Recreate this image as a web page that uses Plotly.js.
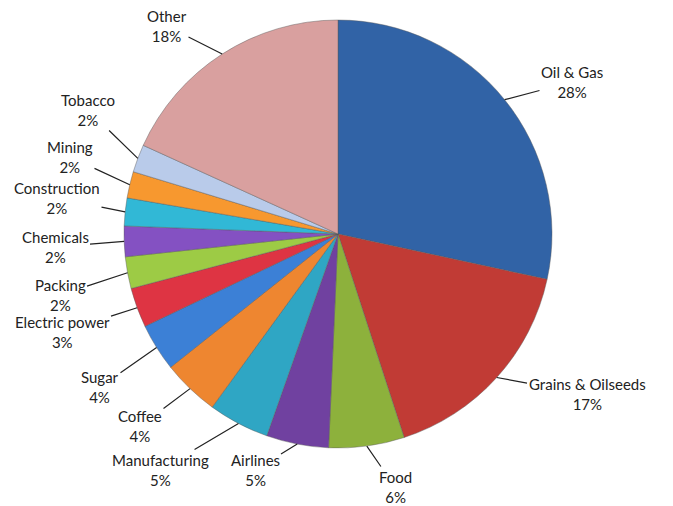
<!DOCTYPE html>
<html><head><meta charset="utf-8">
<script src="https://cdn.plot.ly/plotly-3.0.1.min.js"></script>
<style>html,body{margin:0;padding:0;background:#fff}#chart{width:673px;height:506px}</style>
</head><body><div id="chart"></div>
<script>
// ---- data ----
const sectors = ["Oil & Gas","Grains & Oilseeds","Food","Airlines","Manufacturing","Coffee","Sugar","Electric power","Packing","Chemicals","Construction","Mining","Tobacco","Other"];
const shares = [28.4,16.6,5.7,4.7,4.6,4.3,3.6,3.0,2.4,2.3,2.1,2.0,2.1,18.2];
const colors = ["#3163A6","#C13B35","#8DB13C","#7041A0","#2FA6C4","#EE8630","#3C80D6","#DE3443","#9DCB45","#8451C2","#31B8D6","#F7982F","#B9CBEA","#D9A09F"];

// ---- layout constants (label centres in px) ----
const W = 673, H = 506, CX = 338, CY = 234, R = 214;
const labelXY = [[572,82],[587,394],[395,487],[255,470],[160,470],[140,426],[100,387],[62,332],[60,295],[55,247],[57,198],[70,157],[88,110],[167,26]];

const total = shares.reduce((a,b)=>a+b,0);
let cum = 0;
const annotations = sectors.map((s,i)=>{
  const mid = (cum + shares[i]/2)/total*2*Math.PI; cum += shares[i];
  const px = CX + R*Math.sin(mid), py = CY - R*Math.cos(mid);
  const pct = Math.round(shares[i]/total*100);
  return {
    xref:'paper', yref:'paper', x: px/W, y: 1-py/H,
    ax: labelXY[i][0]-px, ay: labelXY[i][1]-py,
    text: s + '<br>' + pct + '%', showarrow:true, arrowhead:0, arrowwidth:1.2, arrowcolor:'#222',
    font:{family:'Lato, "Open Sans", sans-serif', size:15, color:'#222'}, align:'center', standoff:0, startstandoff:0
  };
});

const trace = {
  type:'pie', labels:sectors, values:shares, sort:false, direction:'clockwise', rotation:0,
  textinfo:'none', hoverinfo:'label+percent',
  marker:{colors:colors, line:{color:'rgba(90,90,90,0.55)', width:0.8}},
  domain:{x:[(CX-R)/W,(CX+R)/W], y:[1-(CY+R)/H, 1-(CY-R)/H]},
  showlegend:false
};
Plotly.newPlot('chart',[trace],{
  width:W, height:H, margin:{l:0,r:0,t:0,b:0}, paper_bgcolor:'#fff', showlegend:false,
  annotations:annotations
},{displayModeBar:false, staticPlot:true});
</script></body></html>
